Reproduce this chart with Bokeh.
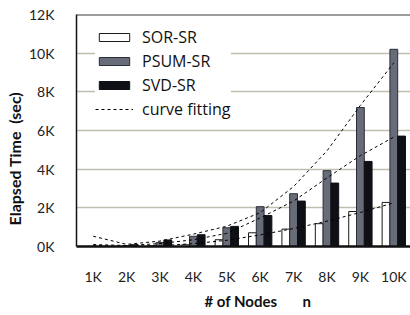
from bokeh.plotting import figure
from bokeh.models import FactorRange, Range1d, FixedTicker, Span, Legend, LegendItem, Title, ColumnDataSource
from bokeh.transform import dodge
from bokeh.embed import file_html
from bokeh.resources import INLINE

nodes = ["1K", "2K", "3K", "4K", "5K", "6K", "7K", "8K", "9K", "10K"]
sor_sr = [5, 10, 30, 90, 350, 710, 900, 1180, 1810, 2280]
psum_sr = [5, 40, 210, 530, 970, 2060, 2730, 3920, 7190, 10200]
svd_sr = [5, 90, 340, 610, 1040, 1600, 2350, 3280, 4400, 5710]
fit_sor = [60, 0, 40, 150, 320, 600, 930, 1310, 1760, 2260]
fit_psum = [530, 110, 280, 640, 1050, 1750, 3100, 4950, 7300, 9500]
fit_svd = [100, 50, 150, 350, 680, 1480, 2350, 3550, 4700, 5660]
y_ticks = [0, 2000, 4000, 6000, 8000, 10000, 12000]
y_tick_labels = ["0K", "2K", "4K", "6K", "8K", "10K", "12K"]

FONT = "Lato"
NB = "\u00a0"

src = ColumnDataSource(dict(n=nodes, sor=sor_sr, psum=psum_sr, svd=svd_sr,
                            fs=fit_sor, fp=fit_psum, fv=fit_svd))

p = figure(x_range=FactorRange(*nodes), y_range=Range1d(0, 12000),
           width=410, height=315, output_backend="svg", toolbar_location=None,
           min_border_left=67, min_border_right=0, min_border_top=14, min_border_bottom=69)
p.outline_line_color = None
p.xgrid.grid_line_color = None
p.ygrid.grid_line_color = "#bfbfae"
p.ygrid.grid_line_width = 1.5

bw = 0.233
r_sor = p.vbar(x=dodge("n", -bw, range=p.x_range), top="sor", width=bw, source=src,
               fill_color="white", line_color="#1a1a1a", line_width=1)
r_psum = p.vbar(x=dodge("n", 0, range=p.x_range), top="psum", width=bw, source=src,
                fill_color="#676c78", line_color="#2a2d35", line_width=1)
r_svd = p.vbar(x=dodge("n", bw, range=p.x_range), top="svd", width=bw, source=src,
               fill_color="#0f1015", line_color="#0f1015", line_width=1)

l1 = p.line(x="n", y="fs", source=src, line_color="black", line_width=1, line_dash="3 3")
l2 = p.line(x="n", y="fp", source=src, line_color="black", line_width=1, line_dash="3 3")
l3 = p.line(x="n", y="fv", source=src, line_color="black", line_width=1, line_dash="3 3")

p.add_layout(Span(location=12000, dimension="width", line_color="#3a3a3a", line_width=2))

p.yaxis.ticker = FixedTicker(ticks=y_ticks)
p.yaxis.major_label_overrides = {t: l for t, l in zip(y_ticks, y_tick_labels)}
for ax in (p.xaxis[0], p.yaxis[0]):
    ax.major_label_text_font = FONT
    ax.major_label_text_font_size = "14px"
    ax.major_label_text_color = "#222222"
    ax.major_tick_line_color = None
    ax.minor_tick_line_color = None
    ax.axis_line_color = "#111111"
p.yaxis.axis_line_width = 1.5
p.xaxis.axis_line_width = 2.5
p.yaxis.major_label_standoff = 16
p.xaxis.major_label_standoff = 15

legend = Legend(items=[LegendItem(label="SOR-SR", renderers=[r_sor]),
                       LegendItem(label="PSUM-SR", renderers=[r_psum]),
                       LegendItem(label="SVD-SR", renderers=[r_svd]),
                       LegendItem(label="curve fitting", renderers=[l1])],
                location=(19, 126), glyph_width=38, glyph_height=10,
                label_height=19, spacing=2, padding=6, label_standoff=9,
                label_text_font="Open Sans", label_text_font_size="16px",
                label_text_color="#111111",
                background_fill_color="white", background_fill_alpha=1.0,
                border_line_color=None, margin=0)
p.add_layout(legend)

p.add_layout(Title(text="Elapsed" + NB + "Time" + NB + NB + "(sec)", align="left", offset=21,
                   text_font=FONT, text_font_style="bold", text_font_size="16px",
                   text_color="#111111", standoff=4), "left")
p.add_layout(Title(text="#" + NB + "of" + NB + "Nodes" + NB * 7 + "n", align="left", offset=128,
                   text_font=FONT, text_font_style="bold", text_font_size="15px",
                   text_color="#111111", standoff=4), "below")

open("out.html", "w").write(file_html(p, INLINE))
